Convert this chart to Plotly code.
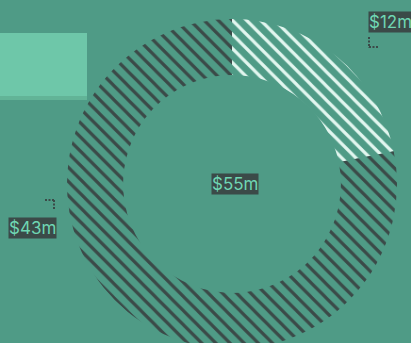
import plotly.graph_objects as go

# ---- data ----
slice_labels = ["Segment A", "Segment B"]
slice_values = [12, 43]
value_texts = ["$12m", "$43m"]
total_text = "$55m"

W, H = 411, 351
BG = "#4f9b86"
DARK = "#3b4a48"
LIGHT = "#e2f6ef"
TXT = "#6fd6b3"

cx, cy, R = 232, 184, 165

fig = go.Figure()

fig.add_trace(go.Pie(
    labels=slice_labels,
    values=slice_values,
    hole=0.66,
    sort=False,
    direction="clockwise",
    rotation=0,
    textinfo="none",
    hoverinfo="skip",
    showlegend=False,
    domain=dict(x=[(cx - R) / W, (cx + R) / W], y=[(H - (cy + R)) / H, (H - (cy - R)) / H]),
    marker=dict(
        colors=["rgba(0,0,0,0)", "rgba(0,0,0,0)"],
        line=dict(width=0),
        pattern=dict(shape="\\", fgcolor=[LIGHT, DARK], bgcolor="rgba(0,0,0,0)",
                     size=10, solidity=0.32, fillmode="replace"),
    ),
))

# invisible axes in pixel units
fig.update_xaxes(range=[0, W], visible=False, fixedrange=True)
fig.update_yaxes(range=[H, 0], visible=False, fixedrange=True)
fig.add_trace(go.Scatter(x=[0], y=[0], mode="markers", marker=dict(opacity=0), showlegend=False, hoverinfo="skip"))

shapes = [
    dict(type="rect", xref="x", yref="y", x0=0, x1=87, y0=33, y1=100, fillcolor="#62b497", line=dict(width=0), layer="below"),
    dict(type="rect", xref="x", yref="y", x0=0, x1=87, y0=33, y1=96, fillcolor="#6ec7a9", line=dict(width=0), layer="below"),
    # leader for $12m
    dict(type="line", xref="x", yref="y", x0=369, x1=369, y0=37, y1=48, line=dict(color=DARK, width=2, dash="2px,1.5px")),
    dict(type="line", xref="x", yref="y", x0=369, x1=378, y0=47, y1=47, line=dict(color=DARK, width=2, dash="2px,1.5px")),
    # leader for $43m
    dict(type="line", xref="x", yref="y", x0=45, x1=54, y0=200, y1=200, line=dict(color=DARK, width=2, dash="2px,1.5px")),
    dict(type="line", xref="x", yref="y", x0=54, x1=54, y0=200, y1=210, line=dict(color=DARK, width=2, dash="2px,1.5px")),
]

label_pos = [(390, 22), (32, 228)]
annotations = []
for t, (x, y) in zip(value_texts, label_pos):
    annotations.append(dict(x=x, y=y, xref="x", yref="y", text=t, showarrow=False,
                            font=dict(family="Inter", size=17, color=TXT),
                            bgcolor=DARK, borderpad=0))
annotations.append(dict(x=235, y=184, xref="x", yref="y", text=total_text, showarrow=False,
                        font=dict(family="Inter", size=17, color=TXT),
                        bgcolor=DARK, borderpad=0))

fig.update_layout(
    width=W, height=H,
    margin=dict(l=0, r=0, t=0, b=0),
    paper_bgcolor=BG, plot_bgcolor="rgba(0,0,0,0)",
    shapes=shapes, annotations=annotations,
    xaxis=dict(domain=[0, 1]), yaxis=dict(domain=[0, 1]),
)

fig.write_html("out.html", config={"displayModeBar": False},
               post_script="document.documentElement.style.overflow='hidden';document.body.style.overflow='hidden';document.body.style.margin='0';")
